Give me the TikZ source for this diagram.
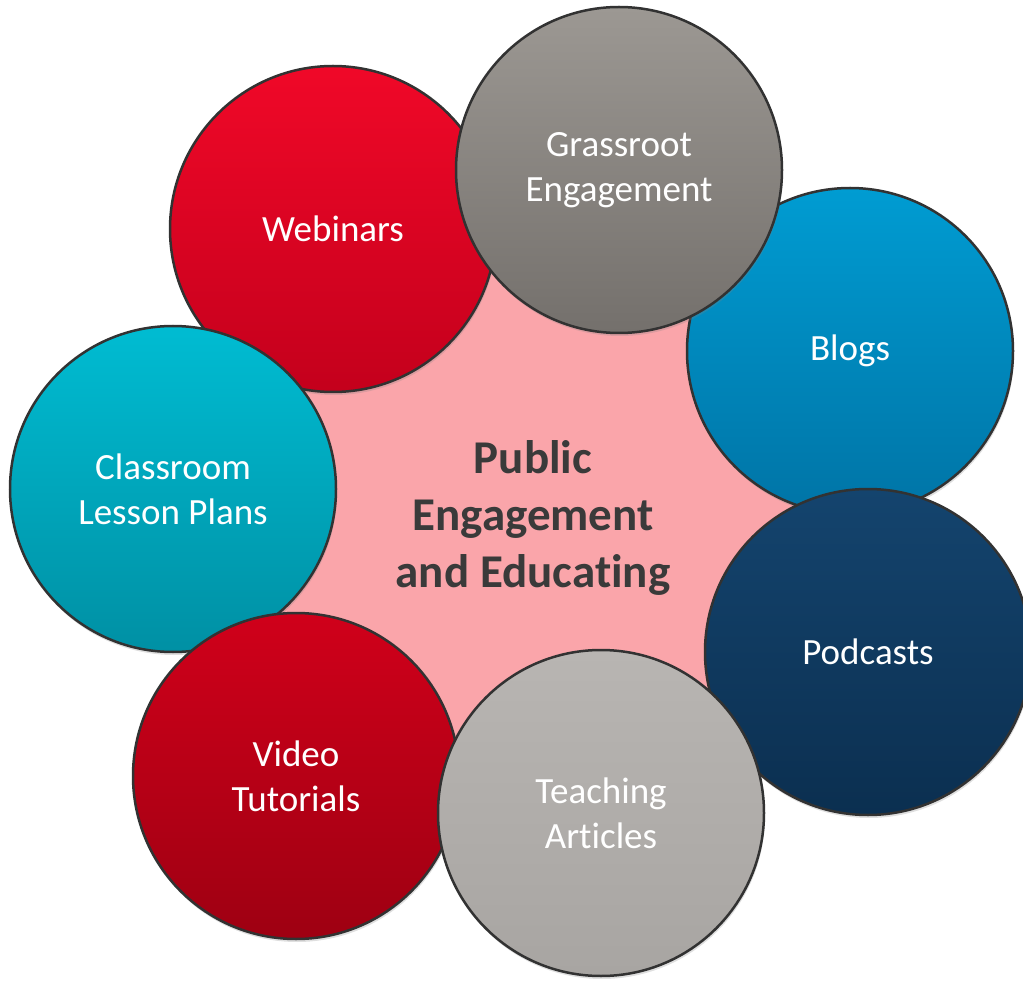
\documentclass[tikz,border=0pt]{standalone}
\usepackage{fontspec}
\setmainfont{Carlito}[Ligatures=NoCommon]
\usetikzlibrary{shadows}

\definecolor{hubpink}{RGB}{250,165,170}
\definecolor{hubtext}{RGB}{58,58,58}
\definecolor{ringgray}{RGB}{50,50,50}
\definecolor{webtop}{RGB}{240,8,40}
\definecolor{webbot}{RGB}{196,0,28}
\definecolor{grasstop}{RGB}{156,152,147}
\definecolor{grassbot}{RGB}{116,112,108}
\definecolor{blogtop}{RGB}{0,156,210}
\definecolor{blogbot}{RGB}{0,116,166}
\definecolor{podtop}{RGB}{20,68,110}
\definecolor{podbot}{RGB}{11,47,80}
\definecolor{teachtop}{RGB}{184,181,178}
\definecolor{teachbot}{RGB}{168,165,162}
\definecolor{vidtop}{RGB}{208,0,26}
\definecolor{vidbot}{RGB}{158,0,18}
\definecolor{classtop}{RGB}{0,188,210}
\definecolor{classbot}{RGB}{0,144,164}

\tikzset{
  bubble/.style={circle, draw=ringgray, line width=2.5pt, minimum size=326pt,
    inner sep=0pt, align=center, text=white,
    font=\fontsize{37}{45}\selectfont,
    drop shadow={opacity=.25, shadow xshift=1pt, shadow yshift=-3pt}},
  hub/.style={circle, fill=hubpink, minimum size=600pt, inner sep=0pt,
    align=center, text=hubtext, font=\fontsize{47}{57}\selectfont\bfseries},
}

\begin{document}
\begin{tikzpicture}[x=1pt, y=-1pt]
  \useasboundingbox (0,0) rectangle (1023,981);
  % pink centre behind the ring
  \node[hub] (hub) at (533,518) {Public\\Engagement\\and Educating};
  % ring of topics, back to front
  \node[bubble, top color=webtop, bottom color=webbot] (webinars) at (333,229) {Webinars};
  \node[bubble, top color=blogtop, bottom color=blogbot] (blogs) at (850,351) {Blogs};
  \node[bubble, top color=classtop, bottom color=classbot] (classroom) at (173,489) {Classroom\\Lesson Plans};
  \node[bubble, top color=grasstop, bottom color=grassbot] (grassroot) at (619,170) {Grassroot\\Engagement};
  \node[bubble, top color=podtop, bottom color=podbot] (podcasts) at (868,652) {Podcasts};
  \node[bubble, top color=vidtop, bottom color=vidbot] (video) at (296,776) {Video\\Tutorials};
  \node[bubble, top color=teachtop, bottom color=teachbot] (teaching) at (601,813) {Teaching\\Articles};
\end{tikzpicture}
\end{document}
